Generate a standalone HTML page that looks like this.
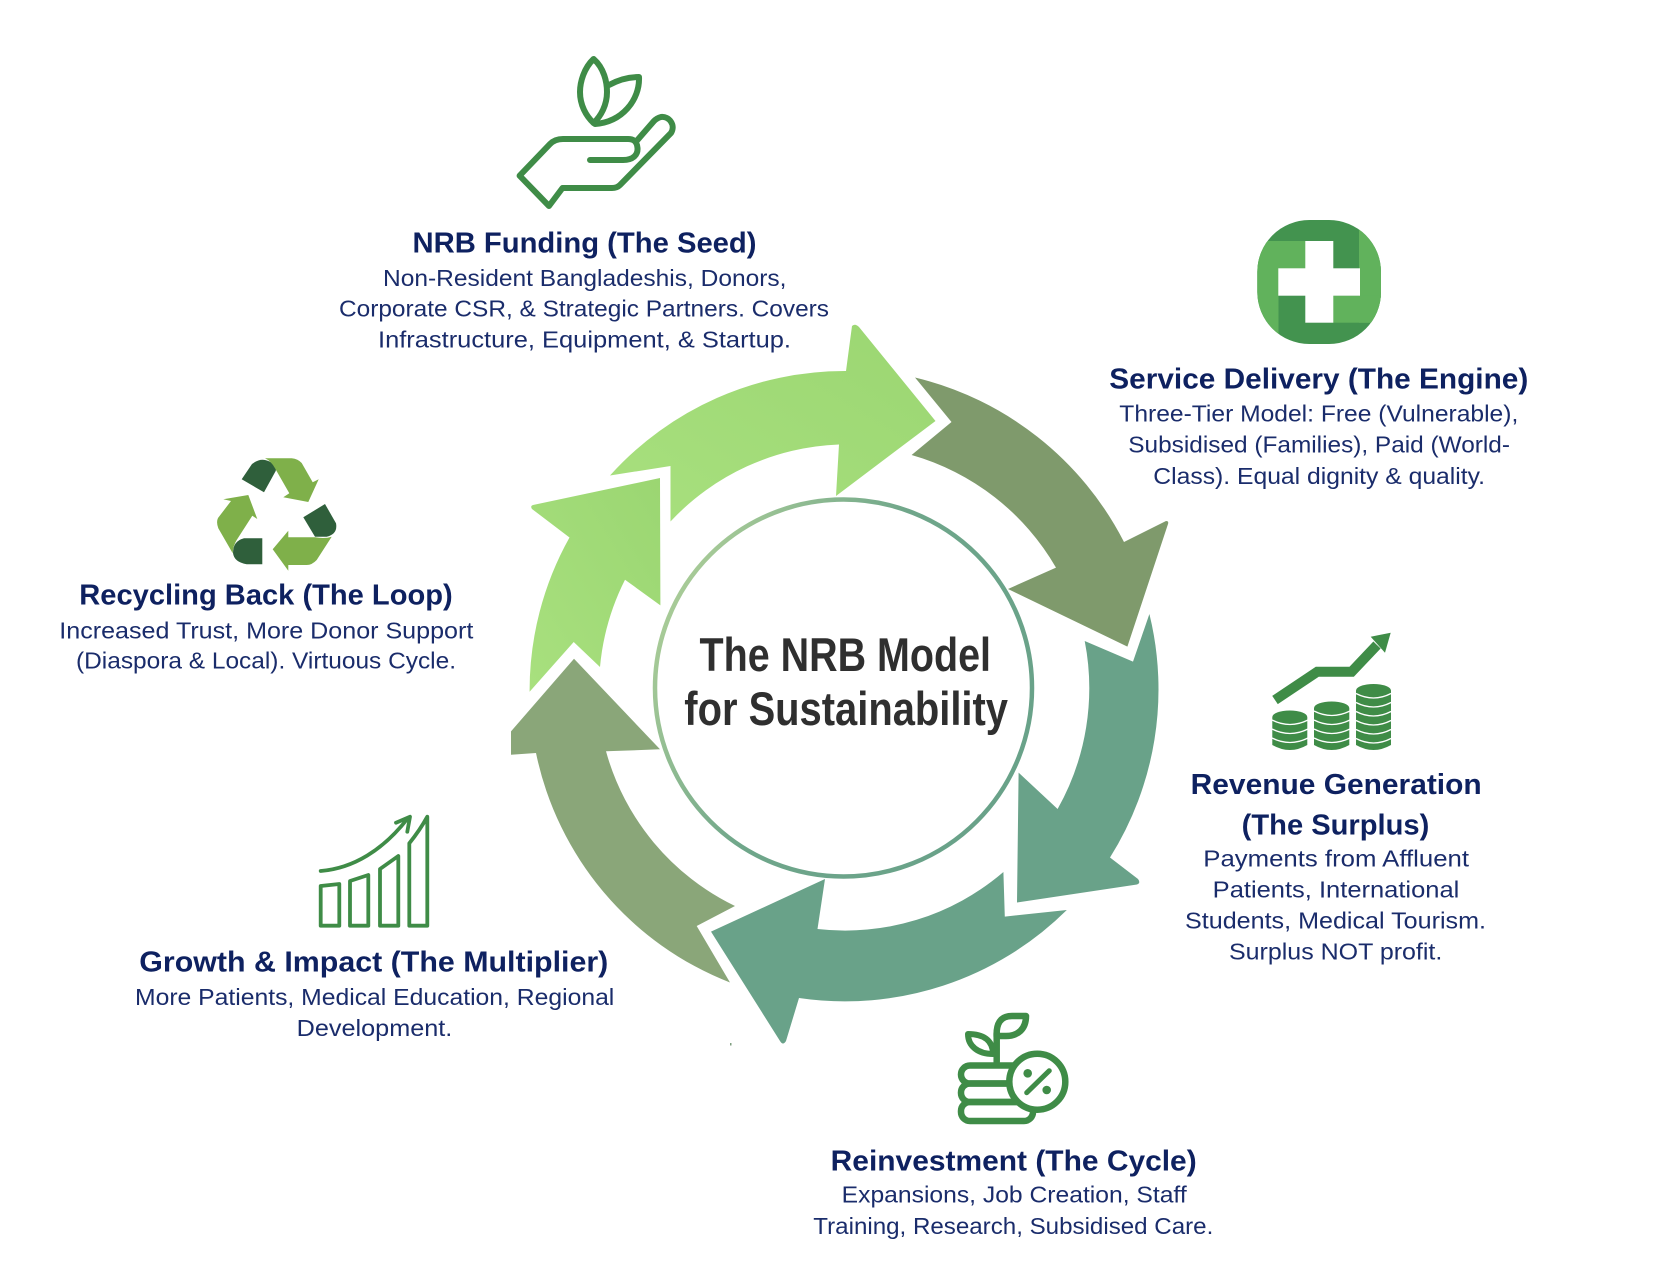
<!DOCTYPE html>
<html><head><meta charset="utf-8"><style>
html,body{margin:0;padding:0;background:#fff}
svg{display:block}
text{font-family:"Liberation Sans",sans-serif}
.h{font-size:28.5px;font-weight:bold;fill:#0e2160}
.b{font-size:23.5px;fill:#1a2c6b}
.t{font-size:47px;font-weight:bold;fill:#2f2f2f}
.g{fill:none;stroke:#3f8c47;stroke-linecap:round;stroke-linejoin:round}
.d{fill:#2f5f3b}.l{fill:#7fb04a}
</style></head><body>
<svg width="1670" height="1268" viewBox="0 0 1670 1268" xmlns="http://www.w3.org/2000/svg">
<defs>
<linearGradient id="cg" x1="0" y1="0" x2="1" y2="0.5"><stop offset="0" stop-color="#bcd89c"/><stop offset="0.55" stop-color="#6fa68a"/><stop offset="1" stop-color="#69a289"/></linearGradient>
<linearGradient id="a1" x1="0" y1="1" x2="1" y2="0"><stop offset="0" stop-color="#a8e07e"/><stop offset="1" stop-color="#9bd672"/></linearGradient>
<clipPath id="sq"><rect x="1257.3" y="220" width="123.7" height="124" rx="52"/></clipPath>
</defs>
<rect width="1670" height="1268" fill="#fff"/>

<!-- ring arrows -->
<path fill="url(#a1)" d="M610 475.5 A316 316 0 0 1 846 371 L852 326 Q855 323 859 327 L935.5 421 L836 496 L839 444.5 A243 243 0 0 0 670.5 521.5 L670.5 466 Z"/>
<path fill="#7f9a6c" d="M915 377.5 A318 318 0 0 1 1124 542 L1166 521 Q1169 521 1168 524 L1127.4 646.6 L1008 589 L1056 567.6 A244 244 0 0 0 911.6 455 L951.5 422 Z"/>
<path fill="#69a289" d="M1149.4 614 A316 316 0 0 1 1110 857.5 L1138 879 Q1141 883 1137 884.5 L1017 902.5 L1018.6 772.6 L1057.6 809 A246 246 0 0 0 1084.7 641 L1133 661.6 Z"/>
<path fill="#69a289" d="M1066.8 910 A315 315 0 0 1 799 998 L786 1041 Q783 1046 780 1041 L711 931.6 L825 879 L817.5 929 A243 243 0 0 0 1003.4 872 L1004.8 916.6 Z"/>
<path fill="#8aa679" d="M730 982.5 A315 315 0 0 1 536 753 L511 754.7 L511 731.4 L574 658.7 L660 749.3 L606 751.3 A244 244 0 0 0 735 906 L696.7 926 Z"/>
<path fill="url(#a1)" d="M529.6 691.7 A313 313 0 0 1 569.5 537.5 L532 509 Q530 506 533 505 L660 478 L660.4 605.4 L625 579.7 A243 243 0 0 0 600 667 L573.7 642 Z"/>
<rect x="730" y="1043" width="1.5" height="2.5" fill="#7f9f80"/>

<!-- centre circle -->
<circle cx="843.5" cy="688" r="188.5" fill="#fff" stroke="url(#cg)" stroke-width="4.5"/>
<text class="t" x="699.5" y="671" textLength="291.5" lengthAdjust="spacingAndGlyphs">The NRB Model</text>
<text class="t" x="684.3" y="725" textLength="323.7" lengthAdjust="spacingAndGlyphs">for Sustainability</text>

<!-- hand icon -->
<g class="g" stroke-width="6">
<path d="M593.6 59 C584 68 580 82 580 92 C580 105 586 116 593.6 123 C601 116 607 105 607 92 C607 82 604 68 593.6 59 Z"/>
<path d="M609 85 C618 80 628 77 639 77 C640 100 622 122 595 124"/>
<path d="M590 160 L623 160 C634 160 638 154 637.5 148 C637 142 634 139 628 139 L563 139 Q555 139 550 144 L519.6 175.7 L549 206 L562.5 188 L612 188 Q617 188 620 185 L671 133 C676 125 669 116 661 117 Q657 118 654 121 L635.7 142"/>
</g>

<!-- cross icon -->
<g clip-path="url(#sq)">
<rect x="1257" y="220" width="124" height="124" fill="#43934f"/>
<rect x="1257" y="241" width="21.5" height="103" fill="#61b25c"/>
<rect x="1257" y="241" width="48.5" height="27.5" fill="#61b25c"/>
<rect x="1359" y="220" width="22" height="102.7" fill="#61b25c"/>
<rect x="1333" y="295.7" width="48" height="27" fill="#61b25c"/>
</g>
<rect x="1305.3" y="241" width="28" height="81.7" fill="#fff"/>
<rect x="1278.3" y="268.3" width="81.7" height="27.4" fill="#fff"/>

<!-- revenue icon -->
<path d="M1275 700 L1317.3 671.7 L1351.7 671.7 L1377 645" fill="none" stroke="#3f8c47" stroke-width="10"/>
<path d="M1390.7 632.7 L1370.7 636.7 L1385 652.7 Z" fill="#3f8c47"/>
<g fill="#3f8c47">
<path d="M1272.3 717 A17.5 6.5 0 0 1 1307.3 717 L1307.3 745 Q1290 755 1272.3 745 Z"/>
<path d="M1314 708 A17.6 6.5 0 0 1 1349.3 708 L1349.3 745 Q1331.6 755 1314 745 Z"/>
<path d="M1356 690.5 A17.5 6.5 0 0 1 1391 690.5 L1391 745 Q1373.5 755 1356 745 Z"/>
</g>
<g fill="none" stroke="#fff" stroke-width="1.3">
<path d="M1272 720 Q1290 729 1308 720 M1272 729 Q1290 738 1308 729 M1272 738 Q1290 747 1308 738"/>
<path d="M1314 711 Q1331.6 720 1350 711 M1314 720 Q1331.6 729 1350 720 M1314 729 Q1331.6 738 1350 729 M1314 738 Q1331.6 747 1350 738"/>
<path d="M1356 693.5 Q1373.5 702.5 1391 693.5 M1356 702.5 Q1373.5 711.5 1391 702.5 M1356 711.5 Q1373.5 720.5 1391 711.5 M1356 720.5 Q1373.5 729.5 1391 720.5 M1356 729.5 Q1373.5 738.5 1391 729.5 M1356 738.5 Q1373.5 747.5 1391 738.5"/>
</g>

<!-- reinvestment icon -->
<g class="g" stroke-width="6.5">
<rect x="961" y="1065.5" width="70" height="18" rx="9"/>
<rect x="961" y="1083.5" width="70" height="18.5" rx="9"/>
<rect x="961" y="1102" width="72" height="19" rx="9"/>
<path d="M996.7 1062 L996.7 1033"/>
<path d="M996.7 1037 C996 1024 1000 1016 1012 1016 L1026 1016 C1026 1029 1018 1036 1006 1036 L997 1036"/>
<path d="M993 1054 C978 1054 968 1046 968 1034 C983 1034 993 1040 993 1054 Z" stroke-width="6"/>
</g>
<circle cx="1037.3" cy="1081.7" r="28" fill="#fff" stroke="#3f8c47" stroke-width="6.5"/>
<path d="M1026.7 1092.7 L1049.3 1070.7" stroke="#3f8c47" stroke-width="5" stroke-linecap="round"/>
<circle cx="1027.7" cy="1073.3" r="4.3" fill="#3f8c47"/><circle cx="1046.7" cy="1090" r="4.3" fill="#3f8c47"/>

<!-- recycle icon -->
<path class="d" d="M241.7 479.3 L252 464 Q262 456 272 463 Q278 468 275 472.3 L264 492.3 Z"/>
<path class="l" d="M265 458.3 L291.7 458.3 Q298 459 301.7 463 L312.7 482.3 L318.7 479.3 L308.3 502 L283.3 497.3 L289.3 493.3 L275 468.3 Q271 461 265 458.3 Z"/>
<path class="d" d="M325 504 L336 523.3 Q338 534 326.7 536.7 L315 536.7 L303.3 517.3 Z"/>
<path class="l" d="M331.7 536.7 L316.7 560 Q312 565 306.7 565 L288.3 565 L288.3 570.7 L272.7 549.3 L288.3 530.7 L288.3 537.3 L315 537.3 Q325 539 331.7 536.7 Z"/>
<path class="d" d="M262.3 538.3 L262.3 564.3 L246.7 564.3 Q234 562 233 553 Q233 541 244 538.3 Z"/>
<path class="l" d="M232.7 553.3 L218.3 528.3 Q216 522 218 518 L231 501 L223.3 499.3 L248.3 495 L257.3 519 L252.3 515.7 L236.7 540 Q233 546 232.7 553.3 Z"/>

<!-- growth icon -->
<g class="g" stroke-width="3.8">
<path d="M320.7 886 L339.3 884 L339.3 925.7 L320.7 925.7 Z"/>
<path d="M350 881 L368.3 875 L368.3 925.7 L350 925.7 Z"/>
<path d="M380 869 L398.3 856 L398.3 925.7 L380 925.7 Z"/>
<path d="M409.3 843.3 Q420 830 427.3 816.7 L427.3 925.7 L409.3 925.7 Z"/>
<path d="M320.7 871 C353.3 868.3 383.3 850 408 818"/>
<path d="M396 822.7 L410 816.7 L407.3 831.7"/>
</g>

<!-- labels -->
<text class="h" x="412.5" y="252.7" textLength="344" lengthAdjust="spacingAndGlyphs">NRB Funding (The Seed)</text>
<text class="b" x="383" y="286" textLength="403.5" lengthAdjust="spacingAndGlyphs">Non-Resident Bangladeshis, Donors,</text>
<text class="b" x="339" y="316.7" textLength="490" lengthAdjust="spacingAndGlyphs">Corporate CSR, &amp; Strategic Partners. Covers</text>
<text class="b" x="378" y="347.7" textLength="413" lengthAdjust="spacingAndGlyphs">Infrastructure, Equipment, &amp; Startup.</text>

<text class="h" x="1109.3" y="388.5" textLength="419" lengthAdjust="spacingAndGlyphs">Service Delivery (The Engine)</text>
<text class="b" x="1119.3" y="421.7" textLength="399" lengthAdjust="spacingAndGlyphs">Three-Tier Model: Free (Vulnerable),</text>
<text class="b" x="1128.3" y="452.7" textLength="381.7" lengthAdjust="spacingAndGlyphs">Subsidised (Families), Paid (World-</text>
<text class="b" x="1153.3" y="484" textLength="331.7" lengthAdjust="spacingAndGlyphs">Class). Equal dignity &amp; quality.</text>

<text class="h" x="1190.7" y="794" textLength="291" lengthAdjust="spacingAndGlyphs">Revenue Generation</text>
<text class="h" x="1241.7" y="834.3" textLength="187.6" lengthAdjust="spacingAndGlyphs">(The Surplus)</text>
<text class="b" x="1203.3" y="866.7" textLength="265.7" lengthAdjust="spacingAndGlyphs">Payments from Affluent</text>
<text class="b" x="1212.7" y="897.7" textLength="246.6" lengthAdjust="spacingAndGlyphs">Patients, International</text>
<text class="b" x="1185" y="928.7" textLength="301" lengthAdjust="spacingAndGlyphs">Students, Medical Tourism.</text>
<text class="b" x="1229" y="959.3" textLength="213.3" lengthAdjust="spacingAndGlyphs">Surplus NOT profit.</text>

<text class="h" x="830.7" y="1170.5" textLength="366" lengthAdjust="spacingAndGlyphs">Reinvestment (The Cycle)</text>
<text class="b" x="841.7" y="1202.7" textLength="345" lengthAdjust="spacingAndGlyphs">Expansions, Job Creation, Staff</text>
<text class="b" x="813.3" y="1234" textLength="400" lengthAdjust="spacingAndGlyphs">Training, Research, Subsidised Care.</text>

<text class="h" x="79.3" y="604.7" textLength="373.4" lengthAdjust="spacingAndGlyphs">Recycling Back (The Loop)</text>
<text class="b" x="59.3" y="638.3" textLength="414" lengthAdjust="spacingAndGlyphs">Increased Trust, More Donor Support</text>
<text class="b" x="76" y="668.7" textLength="380" lengthAdjust="spacingAndGlyphs">(Diaspora &amp; Local). Virtuous Cycle.</text>

<text class="h" x="139.3" y="971.7" textLength="469" lengthAdjust="spacingAndGlyphs">Growth &amp; Impact (The Multiplier)</text>
<text class="b" x="135" y="1005" textLength="479.3" lengthAdjust="spacingAndGlyphs">More Patients, Medical Education, Regional</text>
<text class="b" x="296.7" y="1036" textLength="155.6" lengthAdjust="spacingAndGlyphs">Development.</text>
</svg>
</body></html>
